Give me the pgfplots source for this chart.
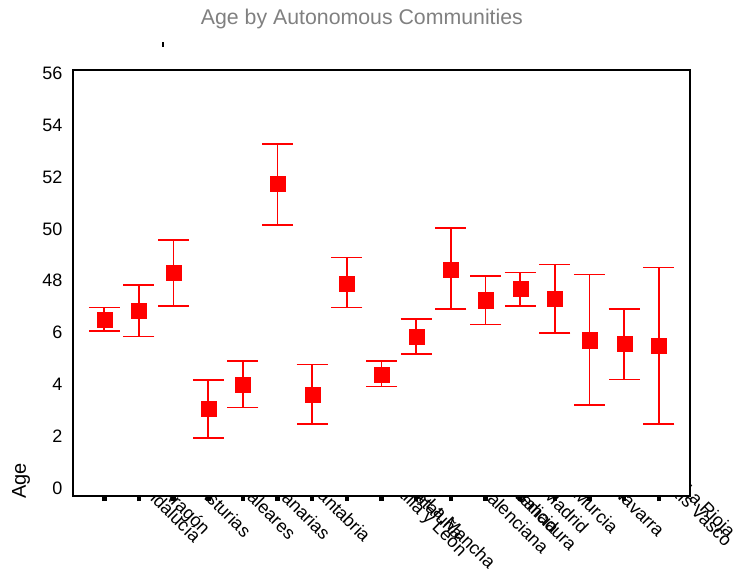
\documentclass[border=0pt]{standalone}
\usepackage{fontspec}
\setmainfont{Liberation Sans}
\usepackage{graphicx}
\usepackage{pgfplots}
\pgfplotsset{compat=1.18}
\usepackage{pgfplotstable}

\pgfplotsset{
  layers/labelsbehind/.define layer set={
    axis tick labels,axis background,axis grid,axis ticks,axis lines,main,axis descriptions,axis foreground
  }{
    grid style={/pgfplots/on layer=axis grid},
    tick style={/pgfplots/on layer=axis ticks},
    axis line style={/pgfplots/on layer=axis lines},
    label style={/pgfplots/on layer=axis descriptions},
    legend style={/pgfplots/on layer=axis descriptions},
    title style={/pgfplots/on layer=axis descriptions},
    colorbar style={/pgfplots/on layer=axis descriptions},
    ticklabel style={/pgfplots/on layer=axis tick labels},
    axis background@ style={/pgfplots/on layer=axis background},
    3d box foreground style={/pgfplots/on layer=axis foreground},
  },
}

% x label: horizontal offset (bp, doubled) then the label turned by -45 degrees
\newcommand{\xl}[2]{\hspace*{#1bp}\rotatebox{-45}{\vphantom{Ág}#2}}

\pgfplotstableread{
x y ep em
0 46.51 0.46 0.46
1 46.84 0.99 1.00
2 48.31 1.26 1.28
3 43.05 1.12 1.13
4 43.99 0.91 0.88
5 51.76 1.51 1.61
6 43.59 1.18 1.13
7 47.90 1.00 0.93
8 44.39 0.52 0.48
9 45.84 0.68 0.66
10 48.44 1.60 1.53
11 47.25 0.92 0.95
12 47.70 0.61 0.67
13 47.30 1.33 1.32
14 45.71 2.53 2.52
15 45.58 1.33 1.39
16 45.51 2.99 3.04
}\datatable

\definecolor{titlegray}{RGB}{128,128,128}

\begin{document}
\begin{tikzpicture}
\begin{axis}[
  set layers=labelsbehind,
  axis background/.style={fill=white},
  at={(73.3bp,73.3bp)}, anchor=south west,
  width=616.7bp, height=425.7bp, scale only axis,
  xmin=-0.894, xmax=16.90, ymin=39.70, ymax=56.13,
  axis line style={line width=1.8bp, black},
  xtick={0,1,...,16},
  xticklabels={\xl{20}{Andalucía},\xl{-15}{Aragón},\xl{-8}{Asturias},\xl{8}{Baleares},\xl{7}{Canarias},\xl{14}{Cantabria},\xl{110}{Castilla y León},\xl{72}{Castilla-La Mancha},\xl{-4}{Cataluña},\xl{70}{C. Valenciana},\xl{62}{Extremadura},\xl{-8}{Galicia},\xl{-19}{Madrid},\xl{-28}{Murcia},\xl{-12}{Navarra},\xl{36}{País Vasco},\xl{-10}{La Rioja}},
  ytick={40,42,...,56},
  yticklabels={0,2,4,6,48,50,52,54,56},
  tick pos=left,
  tick align=outside,
  major tick length=5.5bp,
  xtick style={line width=4.5bp, black},
  ytick style={draw=none},
  x tick label style={font=\fontsize{18bp}{18bp}\selectfont, inner sep=0pt, anchor=center, xshift=55bp, yshift=-10bp},
  y tick label style={font=\fontsize{18bp}{18bp}\selectfont, xshift=-2bp},
  ylabel={Age},
  ylabel style={font=\fontsize{20bp}{20bp}\selectfont, at={(axis description cs:-0.0848,0.0345)}, anchor=center},
  title={Age by Autonomous Communities},
  title style={font=\fontsize{21.3bp}{21.3bp}\selectfont, text=titlegray, at={(axis description cs:0.468,1.1056)}, anchor=center},
  clip=false,
]
\addplot[red, only marks, mark=square*, mark size=7.6bp,
  mark options={solid, fill=red, draw=red, line width=0.1bp},
  error bars/.cd, y dir=both, y explicit,
  error bar style={line width=1.6bp, red},
  error mark options={rotate=90, mark size=15.5bp, line width=1.6bp, red}]
  table[x=x, y=y, y error plus=ep, y error minus=em]{\datatable};
\end{axis}
\fill (161.5bp,522bp) rectangle (164bp,527.3bp);
\pgfresetboundingbox
\useasboundingbox (0,0) rectangle (738bp,569bp);
\end{tikzpicture}
\end{document}
